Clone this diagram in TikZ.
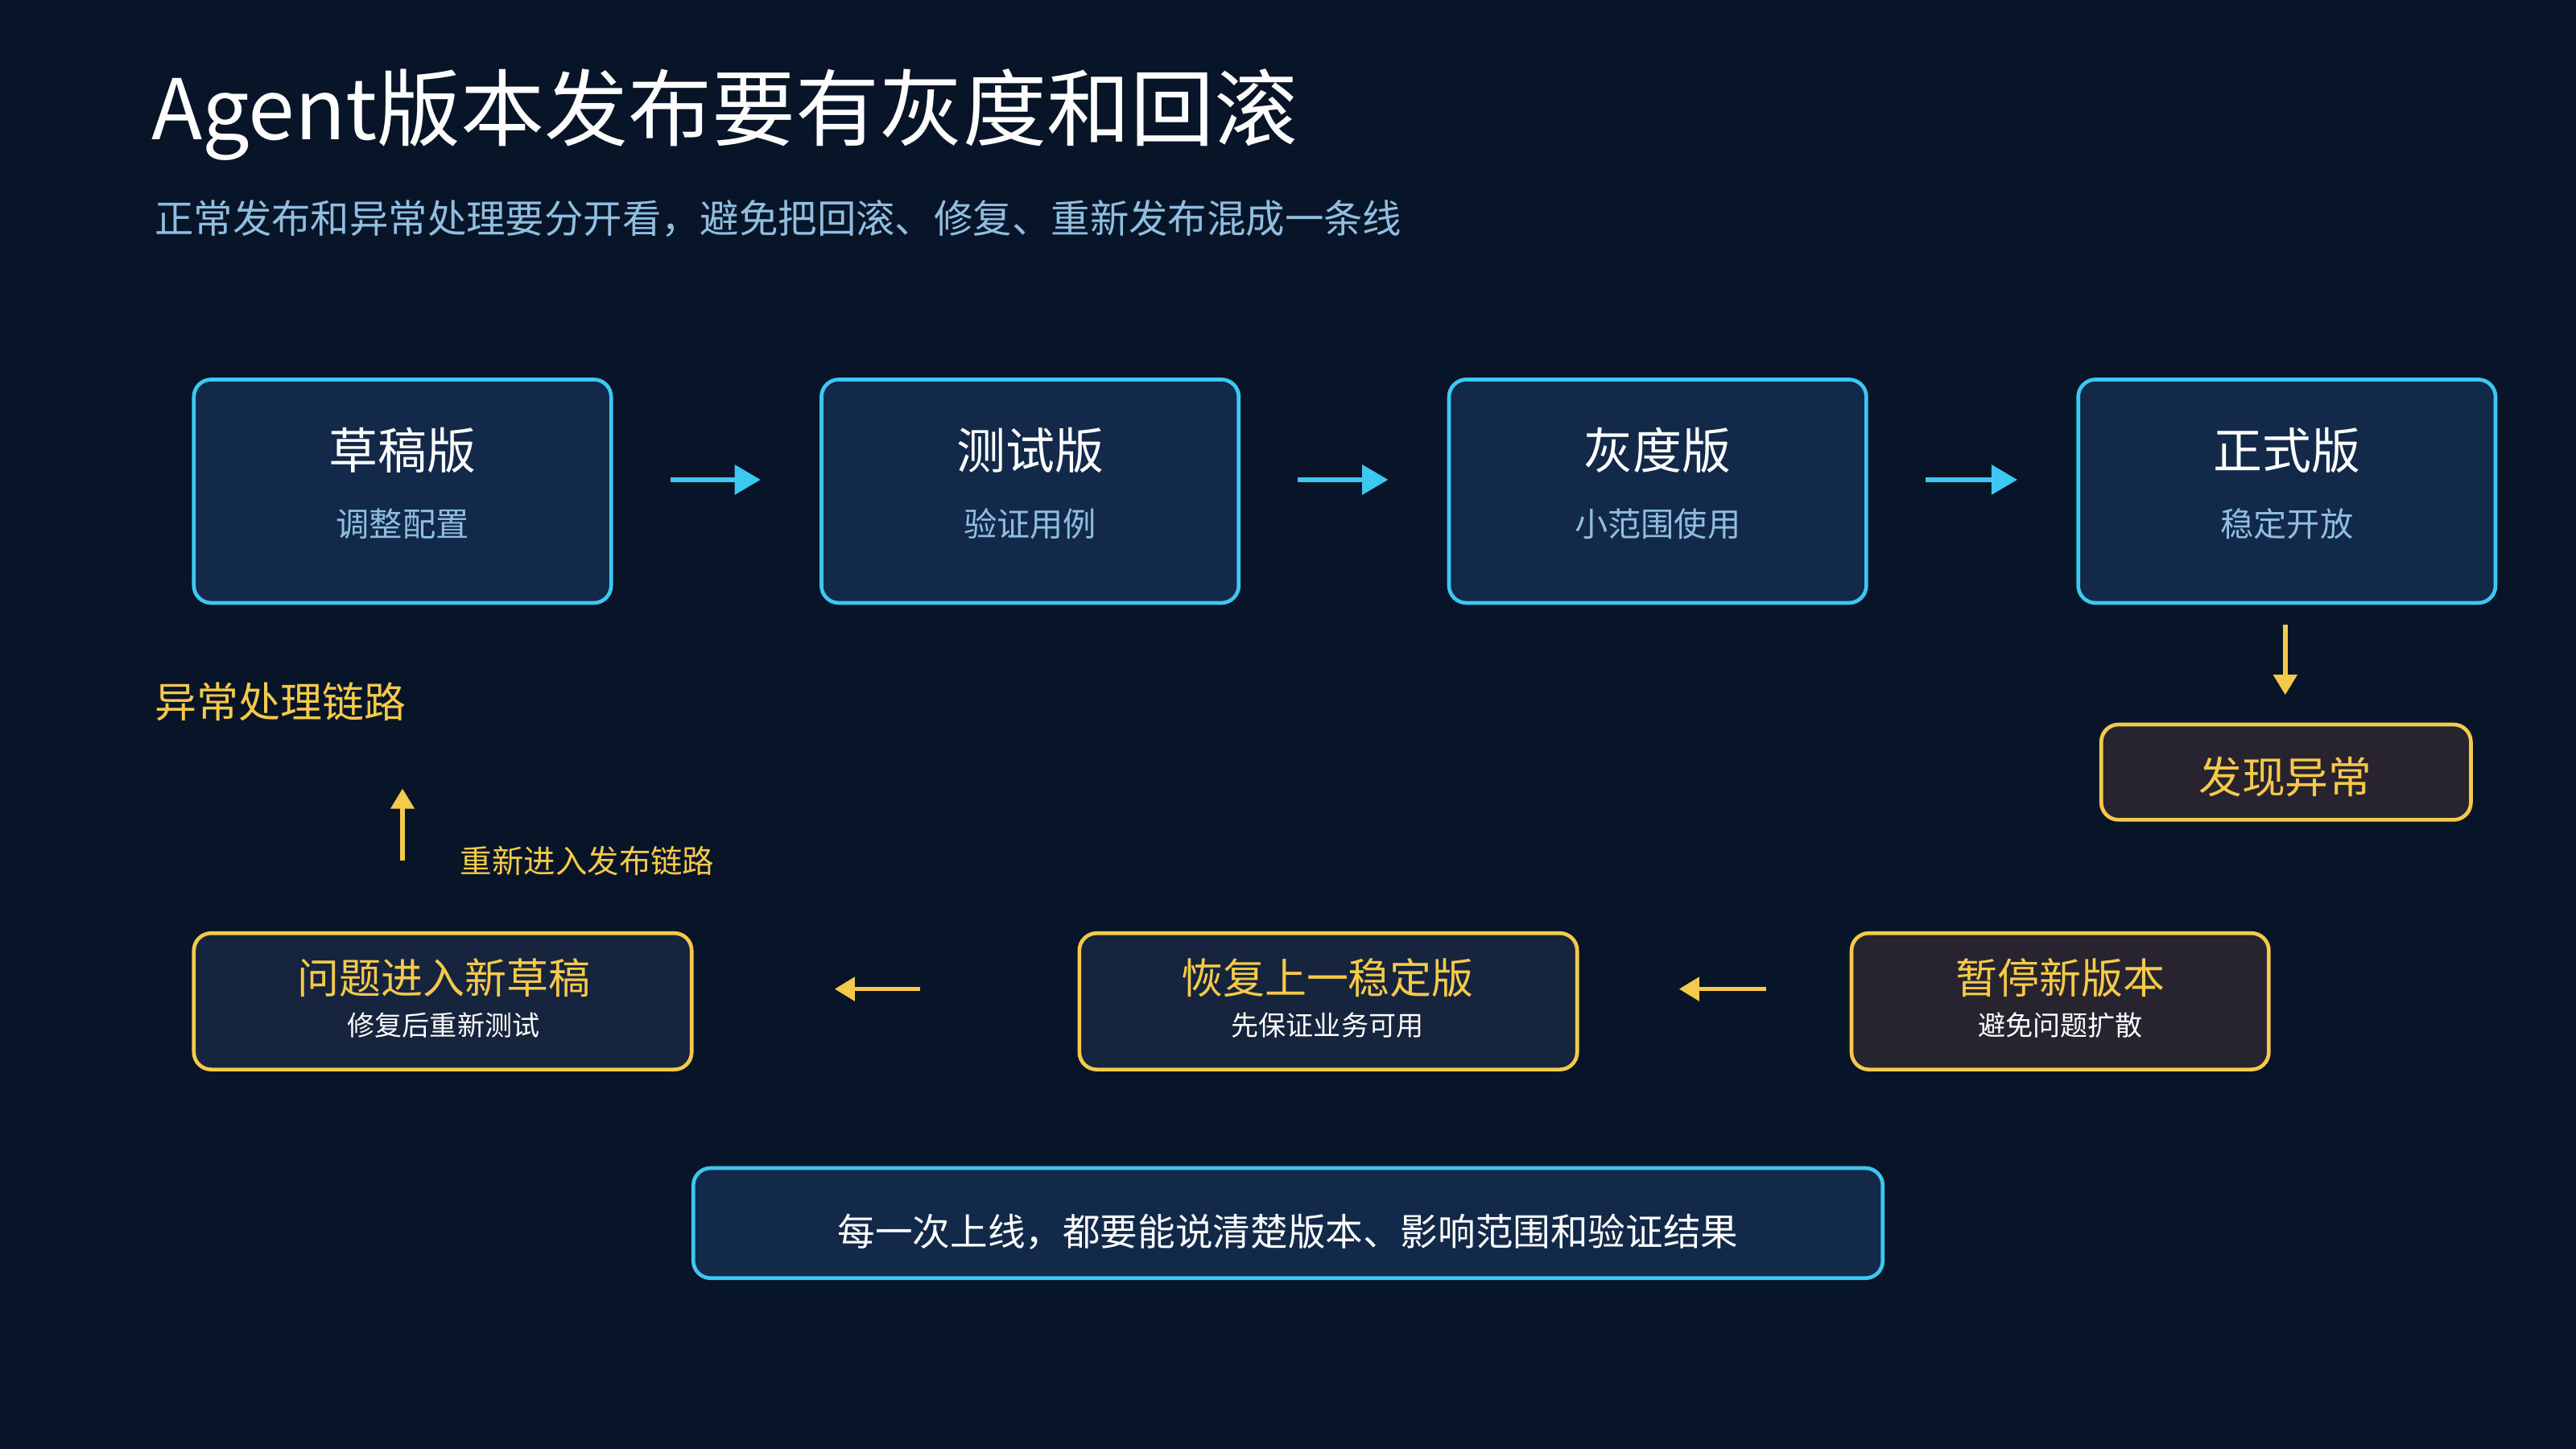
\documentclass[tikz,border=0pt]{standalone}
\usepackage{fontspec}
\setmainfont{Noto Sans CJK SC}
\usetikzlibrary{arrows.meta}
\definecolor{bg}{HTML}{081427}
\definecolor{bfill}{HTML}{13294A}
\definecolor{cyanb}{HTML}{3CC8F0}
\definecolor{yel}{HTML}{F5C94A}
\definecolor{yfill}{HTML}{17243D}
\definecolor{brfill}{HTML}{272430}
\definecolor{subb}{HTML}{8FBEE0}
\begin{document}
\begin{tikzpicture}[x=0.02cm,y=-0.02cm,
  bbox/.style={draw=cyanb,fill=bfill,line width=1.3pt,rounded corners=6pt},
  ybox/.style={draw=yel,fill=yfill,line width=1.3pt,rounded corners=6pt},
  brbox/.style={draw=yel,fill=brfill,line width=1.3pt,rounded corners=6pt},
  carr/.style={draw=cyanb,line width=1.8pt,-{Triangle[length=9pt,width=10pt]}},
  yarr/.style={draw=yel,line width=1.6pt,-{Triangle[length=7pt,width=8pt]}},
  bt/.style={text=white,font=\fontsize{17}{20}\selectfont},
  bs/.style={text=subb,font=\fontsize{11.5}{14}\selectfont},
  lt/.style={text=yel,font=\fontsize{14.5}{17}\selectfont},
  ls/.style={text=white,font=\fontsize{9.5}{12}\selectfont}]
\fill[bg] (0,0) rectangle (1568,882);
\useasboundingbox (0,0) rectangle (1568,882);
\node[anchor=west,text=white,font=\fontsize{29}{34}\selectfont] (title) at (86,70) {Agent版本发布要有灰度和回滚};
\node[anchor=west,text=subb,font=\fontsize{13.5}{16}\selectfont] (sub) at (88,133) {正常发布和异常处理要分开看，避免把回滚、修复、重新发布混成一条线};
% top row
\foreach \n/\x/\t/\s in {a/118/草稿版/调整配置, b/500/测试版/验证用例, c/882/灰度版/小范围使用, d/1265/正式版/稳定开放}{
  \draw[bbox] (\x,231) rectangle ++(254,136);
  \node[bt] (\n t) at (\x+127,274) {\t};
  \node[bs] (\n s) at (\x+127,319) {\s};
  \coordinate (\n L) at (\x-37,292);
  \coordinate (\n R) at (\x+290,292);
}
\draw[carr] (aR) -- (bL);
\draw[carr] (bR) -- (cL);
\draw[carr] (cR) -- (dL);
% found anomaly
\coordinate (dd) at (1391,380);
\draw[brbox] (1279,441) rectangle (1504,499);
\node[lt,font=\fontsize{15}{18}\selectfont] (found) at (1391,473) {发现异常};
\draw[yarr] (dd) -- (1391,423);
% lower row
\draw[brbox] (1127,568) rectangle (1381,651);
\node[lt] (pt) at (1254,595) {暂停新版本};
\node[ls] (ps) at (1254,624) {避免问题扩散};
\draw[ybox] (657,568) rectangle (960,651);
\node[lt] (rt) at (808,595) {恢复上一稳定版};
\node[ls] (rs) at (808,624) {先保证业务可用};
\draw[ybox] (118,568) rectangle (421,651);
\node[lt] (qt) at (270,595) {问题进入新草稿};
\node[ls] (qs) at (270,624) {修复后重新测试};
\coordinate (p1) at (1075,602); \coordinate (p2) at (1022,602);
\coordinate (p3) at (560,602); \coordinate (p4) at (508,602);
\draw[yarr] (p1) -- (p2);
\draw[yarr] (p3) -- (p4);
\coordinate (u1) at (245,524); \coordinate (u2) at (245,480);
\draw[yarr] (u1) -- (u2);
\node[anchor=west,text=yel,font=\fontsize{11}{13}\selectfont] (re) at (274,524) {重新进入发布链路};
\node[anchor=west,text=yel,font=\fontsize{14.5}{17}\selectfont] (exc) at (88,427) {异常处理链路};
% bottom
\draw[bbox] (422,711) rectangle (1146,778);
\node[text=white,font=\fontsize{13}{16}\selectfont] (bot) at (784,750) {每一次上线，都要能说清楚版本、影响范围和验证结果};
\end{tikzpicture}
\end{document}
